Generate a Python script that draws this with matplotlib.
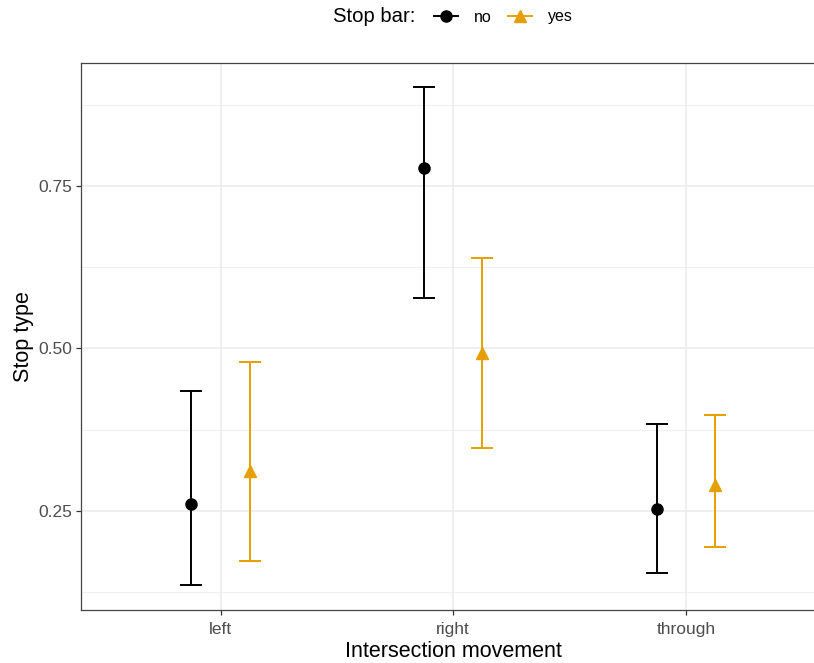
import matplotlib
matplotlib.use("Agg")
import matplotlib.pyplot as plt
from matplotlib.lines import Line2D
import numpy as np

plt.rcParams['font.family'] = ['Liberation Sans', 'DejaVu Sans']

categories = ["left", "right", "through"]
groups = ["no", "yes"]
estimate = {"no": [0.2605, 0.7769, 0.2532], "yes": [0.3112, 0.4932, 0.2892]}
lower = {"no": [0.1358, 0.5774, 0.1538], "yes": [0.1723, 0.3462, 0.1943]}
upper = {"no": [0.4348, 0.9015, 0.3840], "yes": [0.4785, 0.6385, 0.3974]}
colors = {"no": "#000000", "yes": "#E69F00"}
markers = {"no": "o", "yes": "^"}
offsets = {"no": -0.125, "yes": 0.125}

W, H = 814, 663
fig = plt.figure(figsize=(W / 100, H / 100), dpi=100)
left_px, right_px, top_px, bot_px = 81, 825.4, 63, 610
ax = fig.add_axes([left_px / W, 1 - bot_px / H, (right_px - left_px) / W, (bot_px - top_px) / H])

x = np.arange(1, len(categories) + 1)
handles = []
for g in groups:
    est = np.array(estimate[g]); lo = np.array(lower[g]); up = np.array(upper[g])
    ax.errorbar(x + offsets[g], est, yerr=[est - lo, up - est], fmt='none',
                ecolor=colors[g], elinewidth=1.4, capsize=8.2, capthick=1.4, zorder=3)
    ax.plot(x + offsets[g], est, linestyle='none', marker=markers[g],
            color=colors[g], markersize=8 if g == "no" else 9, zorder=4)
    handles.append(Line2D([0], [0], color=colors[g], lw=1.4, marker=markers[g],
                          markersize=8 if g == "no" else 9))

ax.set_xlim(0.4, 3.6)
ax.set_ylim(0.0974, 0.939)
ax.set_xticks(x)
ax.set_xticklabels(categories)
ax.set_yticks([0.25, 0.50, 0.75])
ax.set_yticklabels(["0.25", "0.50", "0.75"])
ax.set_yticks([0.125, 0.375, 0.625, 0.875], minor=True)
ax.grid(True, which='major', color='#EBEBEB', lw=1.1, zorder=0)
ax.grid(True, which='minor', axis='y', color='#EBEBEB', lw=0.55, zorder=0)
ax.set_axisbelow(True)
for s in ax.spines.values():
    s.set_color('#444444'); s.set_linewidth(0.9)
ax.tick_params(axis='both', which='major', colors='#333333', labelcolor='#4D4D4D',
               labelsize=12.5, length=3.5, width=0.9, pad=3)
ax.tick_params(axis='x', which='major', pad=5)
ax.tick_params(axis='y', which='minor', length=0)
ax.set_xlabel("Intersection movement", fontsize=15.5, color='black', labelpad=3)
ax.set_ylabel("Stop type", fontsize=15.5, color='black', labelpad=3)

fig.text(333 / W, 1 - 17 / H, "Stop bar:", fontsize=14.6, va='center', ha='left')
fig.legend(handles, groups, loc='center left', bbox_to_anchor=(434 / W, 1 - 17 / H),
           ncol=2, frameon=False, fontsize=11.5, handlelength=1.5, handletextpad=1.0,
           columnspacing=1.0, borderaxespad=0, borderpad=0)

fig.savefig("out.png", dpi=100)
